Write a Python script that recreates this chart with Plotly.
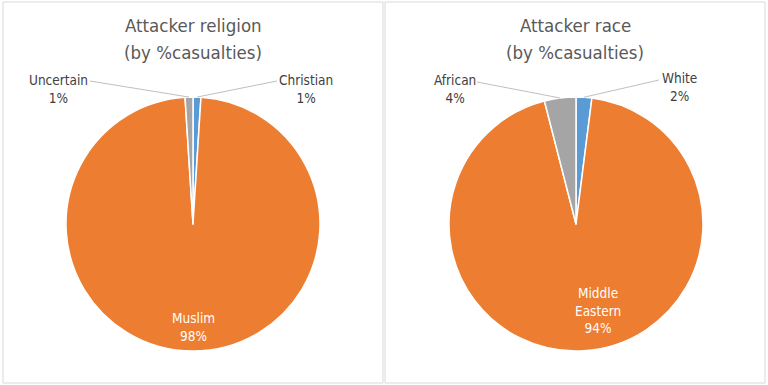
import math
import plotly.graph_objects as go

# ---- data ----
rel_labels = ["Christian", "Muslim", "Uncertain"]
rel_values = [1, 98, 1]
race_labels = ["White", "Middle Eastern", "African"]
race_values = [2, 94, 4]
slice_colors = ["#5B9BD5", "#ED7D31", "#A5A5A5"]

W, H = 768, 385
FONT = "DejaVu Sans Condensed, Liberation Sans Narrow, sans-serif"


def fx(x):
    return x / W


def fy(y):
    return 1 - y / H


charts = [
    dict(title=["Attacker religion", "(by %casualties)"], labels=rel_labels, values=rel_values,
         cx=193, cy=224, r=127, box=(3, 2, 383, 383),
         label_pos=[(306, 88.5), (193, 326.5), (58, 88.5)],
         leader=[(277, 81), None, (90, 81)]),
    dict(title=["Attacker race", "(by %casualties)"], labels=race_labels, values=race_values,
         cx=576, cy=224, r=127, box=(385, 2, 765, 383),
         label_pos=[(679, 86.5), (598, 310), (455, 88.5)],
         leader=[(659, 80), None, (477, 82)]),
]

fig = go.Figure()
shapes = []
annotations = []
for ch in charts:
    cx, cy, r = ch["cx"], ch["cy"], ch["r"]
    dom = dict(x=[fx(cx - r), fx(cx + r)], y=[fy(cy + r), fy(cy - r)])
    fig.add_trace(go.Pie(
        labels=ch["labels"], values=ch["values"], sort=False, direction="clockwise",
        rotation=0, marker=dict(colors=slice_colors, line=dict(color="white", width=1.5)),
        textinfo="none", hoverinfo="label+percent", showlegend=False, domain=dom,
    ))
    x0, y0, x1, y1 = ch["box"]
    shapes.append(dict(type="rect", xref="paper", yref="paper", x0=fx(x0), x1=fx(x1),
                       y0=fy(y1), y1=fy(y0), line=dict(color="#D9D9D9", width=1)))
    for j, line in enumerate(ch["title"]):
        annotations.append(dict(text=line, xref="paper", yref="paper",
                                x=fx((x0 + x1) / 2), y=fy(25 + 27 * j), xanchor="center",
                                yanchor="middle", showarrow=False,
                                font=dict(family=FONT, size=18.5, color="#595959")))
    total = sum(ch["values"])
    cum = 0
    for i, (lab, val) in enumerate(zip(ch["labels"], ch["values"])):
        mid = (cum + val / 2) / total * 2 * math.pi
        cum += val
        pct = round(val / total * 100)
        inside = ch["leader"][i] is None
        lx, ly = ch["label_pos"][i]
        annotations.append(dict(
            text=lab.replace(" ", "<br>") + "<br>" + f"{pct}%", xref="paper", yref="paper",
            x=fx(lx), y=fy(ly), xanchor="center", yanchor="middle", showarrow=False,
            font=dict(family=FONT, size=13.5, color="white" if inside else "#404040"),
        ))
        if not inside:
            tx = cx + r * math.sin(mid)
            ty = cy - r * math.cos(mid)
            sx, sy = ch["leader"][i]
            shapes.append(dict(type="line", xref="paper", yref="paper", x0=fx(sx), y0=fy(sy),
                               x1=fx(tx), y1=fy(ty), line=dict(color="#BFBFBF", width=1)))

fig.update_layout(
    width=W, height=H, margin=dict(l=0, r=0, t=0, b=0),
    paper_bgcolor="white", plot_bgcolor="white",
    shapes=shapes, annotations=annotations,
)
fig.write_html("out.html", config={"displayModeBar": False},
               post_script="document.body.style.margin='0';document.body.style.overflow='hidden';")
